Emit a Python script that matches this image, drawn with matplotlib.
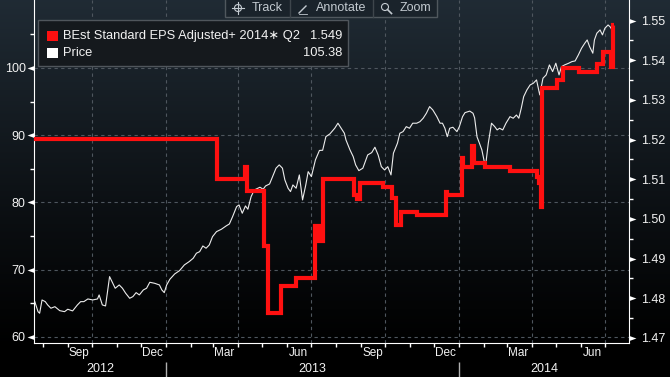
import numpy as np
import pandas as pd
import matplotlib
matplotlib.use("Agg")
import matplotlib.pyplot as plt
import matplotlib.dates as mdates
from matplotlib.patches import Rectangle, Circle
from matplotlib.ticker import FixedLocator, NullFormatter, FormatStrFormatter

plt.rcParams['font.family'] = ['Liberation Sans', 'DejaVu Sans']

# ---- data ----
price_dates = [
    "2012-07-22", "2012-07-26", "2012-07-28", "2012-07-31", "2012-08-04", "2012-08-07", "2012-08-11", "2012-08-16", "2012-08-22", "2012-08-28",
    "2012-09-01", "2012-09-07", "2012-09-13", "2012-09-17", "2012-09-21", "2012-09-26", "2012-10-02", "2012-10-08", "2012-10-10", "2012-10-14",
    "2012-10-18", "2012-10-23", "2012-10-27", "2012-10-30", "2012-11-04", "2012-11-08", "2012-11-12", "2012-11-17", "2012-11-21", "2012-11-25",
    "2012-11-29", "2012-12-04", "2012-12-08", "2012-12-12", "2012-12-18", "2012-12-24", "2012-12-27", "2012-12-30", "2013-01-02", "2013-01-06",
    "2013-01-12", "2013-01-18", "2013-01-24", "2013-01-30", "2013-02-04", "2013-02-08", "2013-02-12", "2013-02-16", "2013-02-20", "2013-02-24",
    "2013-02-28", "2013-03-05", "2013-03-11", "2013-03-17", "2013-03-21", "2013-03-25", "2013-03-30", "2013-04-02", "2013-04-06", "2013-04-10",
    "2013-04-13", "2013-04-17", "2013-04-21", "2013-04-28", "2013-05-02", "2013-05-05", "2013-05-10", "2013-05-14", "2013-05-18", "2013-05-22",
    "2013-05-26", "2013-05-29", "2013-06-02", "2013-06-05", "2013-06-08", "2013-06-12", "2013-06-16", "2013-06-20", "2013-06-24", "2013-06-27",
    "2013-07-01", "2013-07-06", "2013-07-11", "2013-07-15", "2013-07-19", "2013-07-24", "2013-07-30", "2013-08-03", "2013-08-07", "2013-08-11",
    "2013-08-13", "2013-08-18", "2013-08-22", "2013-08-25", "2013-08-29", "2013-09-03", "2013-09-09", "2013-09-14", "2013-09-18", "2013-09-22",
    "2013-09-26", "2013-09-30", "2013-10-04", "2013-10-08", "2013-10-11", "2013-10-16", "2013-10-19", "2013-10-23", "2013-10-27", "2013-10-31",
    "2013-11-04", "2013-11-09", "2013-11-13", "2013-11-17", "2013-11-21", "2013-11-25", "2013-11-29", "2013-12-04", "2013-12-08", "2013-12-11",
    "2013-12-14", "2013-12-17", "2013-12-20", "2013-12-24", "2013-12-29", "2014-01-01", "2014-01-05", "2014-01-08", "2014-01-14", "2014-01-18",
    "2014-01-20", "2014-01-23", "2014-01-26", "2014-01-29", "2014-02-01", "2014-02-03", "2014-02-06", "2014-02-10", "2014-02-14", "2014-02-17",
    "2014-02-20", "2014-02-24", "2014-02-28", "2014-03-05", "2014-03-09", "2014-03-13", "2014-03-16", "2014-03-19", "2014-03-22", "2014-03-26",
    "2014-03-30", "2014-04-03", "2014-04-07", "2014-04-11", "2014-04-15", "2014-04-19", "2014-04-23", "2014-04-27", "2014-05-01", "2014-05-05",
    "2014-05-08", "2014-05-12", "2014-05-17", "2014-05-21", "2014-05-25", "2014-05-29", "2014-06-02", "2014-06-06", "2014-06-09", "2014-06-12",
    "2014-06-16", "2014-06-18", "2014-06-21", "2014-06-25", "2014-06-28", "2014-07-01", "2014-07-05", "2014-07-08", "2014-07-11"]
price_values = [
    65.25, 63.76, 63.52, 65.5, 65.25, 64.76, 64.27, 64.5, 63.91, 63.76,
    64.12, 63.87, 64.76, 65.25, 65.25, 65.65, 65.5, 65.65, 66.25, 64.76,
    64.61, 68.97, 67.98, 67.24, 67.73, 67.24, 66.5, 65.75, 66.0, 66.59,
    66.25, 66.99, 67.24, 68.13, 67.98, 67.73, 66.99, 66.59, 67.73, 68.58,
    69.37, 69.86, 70.71, 71.2, 71.7, 72.45, 72.68, 73.53, 73.19, 73.68,
    74.91, 75.66, 76.01, 76.51, 76.8, 77.89, 79.38, 79.63, 78.39, 79.48,
    78.99, 80.86, 81.86, 82.26, 81.96, 82.45, 82.75, 83.94, 85.09, 85.58,
    85.09, 83.35, 82.11, 81.61, 82.6, 82.11, 84.09, 80.37, 82.6, 84.58,
    83.84, 86.32, 87.73, 87.76, 89.78, 90.19, 91.03, 91.78, 91.03, 90.29,
    89.29, 87.81, 86.81, 85.58, 84.73, 85.09, 87.06, 87.41, 88.21, 87.06,
    85.32, 84.83, 85.32, 84.09, 87.32, 88.8, 90.29, 90.53, 91.27, 91.03,
    91.78, 91.78, 92.01, 92.52, 93.26, 94.25, 93.75, 92.76, 91.78, 91.78,
    91.03, 89.78, 91.03, 91.18, 90.53, 91.27, 92.76, 93.35, 93.58, 93.26,
    92.57, 89.74, 88.8, 87.81, 86.07, 85.83, 88.8, 91.78, 91.27, 90.78,
    91.03, 90.78, 91.78, 92.76, 92.52, 93.0, 92.52, 94.01, 95.73, 96.73,
    97.47, 97.72, 98.22, 95.99, 98.47, 98.96, 100.45, 99.45, 100.7, 98.96,
    100.19, 100.45, 100.7, 100.94, 101.04, 101.93, 102.93, 103.67, 104.16, 103.17,
    102.19, 104.16, 105.16, 105.65, 104.91, 105.9, 106.39, 106.05, 105.38]

eps_dates = [
    "2012-07-21", "2013-03-06", "2013-04-10", "2013-04-12", "2013-05-03", "2013-05-08", "2013-05-24", "2013-06-12",
    "2013-07-06", "2013-07-10", "2013-07-16", "2013-08-23", "2013-08-27", "2013-08-31", "2013-09-28", "2013-10-09",
    "2013-10-14", "2013-10-20", "2013-11-09", "2013-12-15", "2013-12-17", "2014-01-04", "2014-01-06", "2014-01-17",
    "2014-01-19", "2014-02-02", "2014-03-05", "2014-04-07", "2014-04-10", "2014-04-12", "2014-04-14", "2014-05-02",
    "2014-05-10", "2014-05-30", "2014-06-21", "2014-06-29", "2014-07-09", "2014-07-11", "2014-07-12"]
eps_values = [
    1.5201, 1.5100, 1.5132, 1.5071, 1.4932, 1.4762, 1.4831, 1.4850,
    1.4981, 1.4943, 1.5101, 1.5061, 1.5050, 1.5090, 1.5081, 1.5052,
    1.4985, 1.5018, 1.5010, 1.5069, 1.5061, 1.5153, 1.5130, 1.5184,
    1.5142, 1.5130, 1.5121, 1.5105, 1.5090, 1.5031, 1.5330, 1.5350,
    1.5380, 1.5371, 1.5391, 1.5420, 1.5384, 1.5489, 1.5489]

left_ticks = [60, 70, 80, 90, 100]
right_ticks = [1.47, 1.48, 1.49, 1.50, 1.51, 1.52, 1.53, 1.54, 1.55]
month_labels = ["Sep", "Dec", "Mar", "Jun", "Sep", "Dec", "Mar", "Jun"]
month_label_dates = ["2012-09-15", "2012-12-15", "2013-03-15", "2013-06-15",
                     "2013-09-15", "2013-12-15", "2014-03-15", "2014-06-15"]
years = ["2012", "2013", "2014"]
legend_eps = "BEst Standard EPS Adjusted+ 2014\u2217 Q2"
legend_price = "Price"

pdates = pd.to_datetime(price_dates)
edates = pd.to_datetime(eps_dates)
x0, x1 = pd.Timestamp("2012-07-21"), pd.Timestamp("2014-07-31")

W, H = 670, 377
fig = plt.figure(figsize=(W / 100, H / 100), dpi=100)

# background gradient
bg = fig.add_axes([0, 0, 1, 1], zorder=-10)
t = np.linspace(0, 1, 300)[:, None]
top = np.array([0.125, 0.168, 0.205])
shade = np.clip(1 - t / 0.93, 0, 1) ** 1.1
img = shade[:, :, None] * top[None, None, :]
bg.imshow(np.repeat(img, 2, axis=1), aspect='auto', extent=[0, 1, 0, 1], origin='upper')
bg.axis('off')

ax = fig.add_axes([34 / W, (H - 343) / H, 595 / W, 343 / H])
ax.set_facecolor('none')
ax2 = ax.twinx()

ax.plot(pdates, price_values, color='#ececec', lw=0.8, zorder=3)
ax2.plot(edates, eps_values, drawstyle='steps-post', color='#ff1010', lw=3,
         solid_joinstyle='miter', solid_capstyle='butt', zorder=3)

ax.set_xlim(x0, x1)
ax.set_ylim(59.1, 110.1)
ax2.set_ylim(1.4687, 1.5552)

txtc = '#f2f2f2'
# y axes
ax.yaxis.set_major_locator(FixedLocator(left_ticks))
ax.yaxis.set_minor_locator(FixedLocator([v + 5 for v in left_ticks]))
ax.tick_params(axis='y', which='major', length=0, pad=6, labelsize=9, labelcolor=txtc)
ax.tick_params(axis='y', which='minor', length=3, width=1, color='white')
ax2.yaxis.set_major_locator(FixedLocator(right_ticks))
ax2.yaxis.set_major_formatter(FormatStrFormatter('%.2f'))
ax2.yaxis.set_minor_locator(FixedLocator([v + 0.005 for v in right_ticks[:-1]]))
ax2.tick_params(axis='y', which='major', length=0, pad=8.5, labelsize=9, labelcolor=txtc)
ax2.tick_params(axis='y', which='minor', length=3, width=1, color='white')

# triangles at major ticks
tri_left = [(0, 0.36), (-1, 0), (0, -0.36)]
tri_right = [(0, 0.36), (1, 0), (0, -0.36)]
ax.plot(np.zeros(len(left_ticks)), left_ticks, ls='none', marker=tri_left, ms=10,
        color='white', mec='white', mew=0, transform=ax.get_yaxis_transform(), clip_on=False)
ax2.plot(np.ones(len(right_ticks)), right_ticks, ls='none', marker=tri_right, ms=10,
         color='white', mec='white', mew=0, transform=ax2.get_yaxis_transform(), clip_on=False)

# x axis: month ticks, quarter gridlines
ax.xaxis.set_major_locator(mdates.MonthLocator(bymonth=[1, 4, 7, 10]))
ax.xaxis.set_minor_locator(mdates.MonthLocator())
ax.xaxis.set_major_formatter(NullFormatter())
ax.tick_params(axis='x', which='both', length=3, width=1, color='white', labelbottom=False)
ax.grid(True, which='major', color='#4e565e', lw=0.8, ls=(0, (3, 3)))

for s in ['top', 'right']:
    ax.spines[s].set_visible(False)
for s in ['top', 'left', 'bottom']:
    ax2.spines[s].set_visible(False)
ax.spines['left'].set_color('white')
ax.spines['bottom'].set_color('white')
ax2.spines['right'].set_color('white')

sec = ax.secondary_xaxis('bottom')
sec.set_xticks(mdates.date2num(pd.to_datetime(month_label_dates)), month_labels)
sec.tick_params(length=0, pad=3, labelsize=8.5, labelcolor=txtc)
sec.spines['bottom'].set_visible(False)

yr = ax.secondary_xaxis(-19 / 343)
jan = pd.to_datetime(["2013-01-01", "2014-01-01"])
bounds = [x0] + list(jan) + [x1]
centers = [bounds[i] + (bounds[i + 1] - bounds[i]) / 2 for i in range(3)]
yr.set_xticks(mdates.date2num(jan), ["", ""])
yr.set_xticks(mdates.date2num(pd.DatetimeIndex(centers)), years, minor=True)
yr.tick_params(which='major', length=12, width=1, color='#b0b0b0', direction='out')
yr.tick_params(which='minor', length=0, pad=0.5, labelsize=9, labelcolor=txtc)
yr.spines['bottom'].set_visible(False)

# overlay: legend box and toolbar (pixel coordinates)
ov = fig.add_axes([0, 0, 1, 1], zorder=20)
ov.set_xlim(0, W)
ov.set_ylim(H, 0)
ov.axis('off')
ov.patch.set_alpha(0)

ov.add_patch(Rectangle((38, 20), 310, 46, fc='#15191d', ec='#50565c', lw=1))
ov.add_patch(Rectangle((47, 31), 11, 10, fc='#ff1010', ec='none'))
ov.add_patch(Rectangle((47, 48), 11, 10, fc='white', ec='none'))
ov.text(63, 36, legend_eps, color=txtc, fontsize=9.3, va='center', ha='left')
ov.text(342, 36, f"{eps_values[-1]:.3f}", color=txtc, fontsize=9.3, va='center', ha='right')
ov.text(63, 53, legend_price, color=txtc, fontsize=9.3, va='center', ha='left')
ov.text(342, 53, f"{price_values[-1]:.2f}", color=txtc, fontsize=9.3, va='center', ha='right')

tb = '#c3cad0'
ov.add_patch(Rectangle((225, -2), 212, 19, fc='#1a232b', ec='#50585e', lw=1))
for sx in [290, 373]:
    ov.plot([sx, sx], [0, 17], color='#3e464c', lw=1)
# crosshair icon
ov.add_patch(Circle((238, 8), 3.5, fc='none', ec=tb, lw=0.8))
ov.plot([232, 244], [8, 8], color=tb, lw=0.8)
ov.plot([238, 238], [2, 14], color=tb, lw=0.8)
# pencil icon
ov.plot([299, 306], [13, 6], color=tb, lw=1)
ov.plot([299, 307], [14, 14], color=tb, lw=0.6)
# magnifier icon
ov.add_patch(Circle((385, 7), 3.5, fc='none', ec=tb, lw=0.8))
ov.plot([387.5, 391.5], [9.5, 13.5], color=tb, lw=1.2)
ov.text(252, 8, "Track", color=tb, fontsize=9, va='center', ha='left')
ov.text(316, 8, "Annotate", color=tb, fontsize=9, va='center', ha='left')
ov.text(400, 8, "Zoom", color=tb, fontsize=9, va='center', ha='left')

fig.savefig('out.png', dpi=100)
